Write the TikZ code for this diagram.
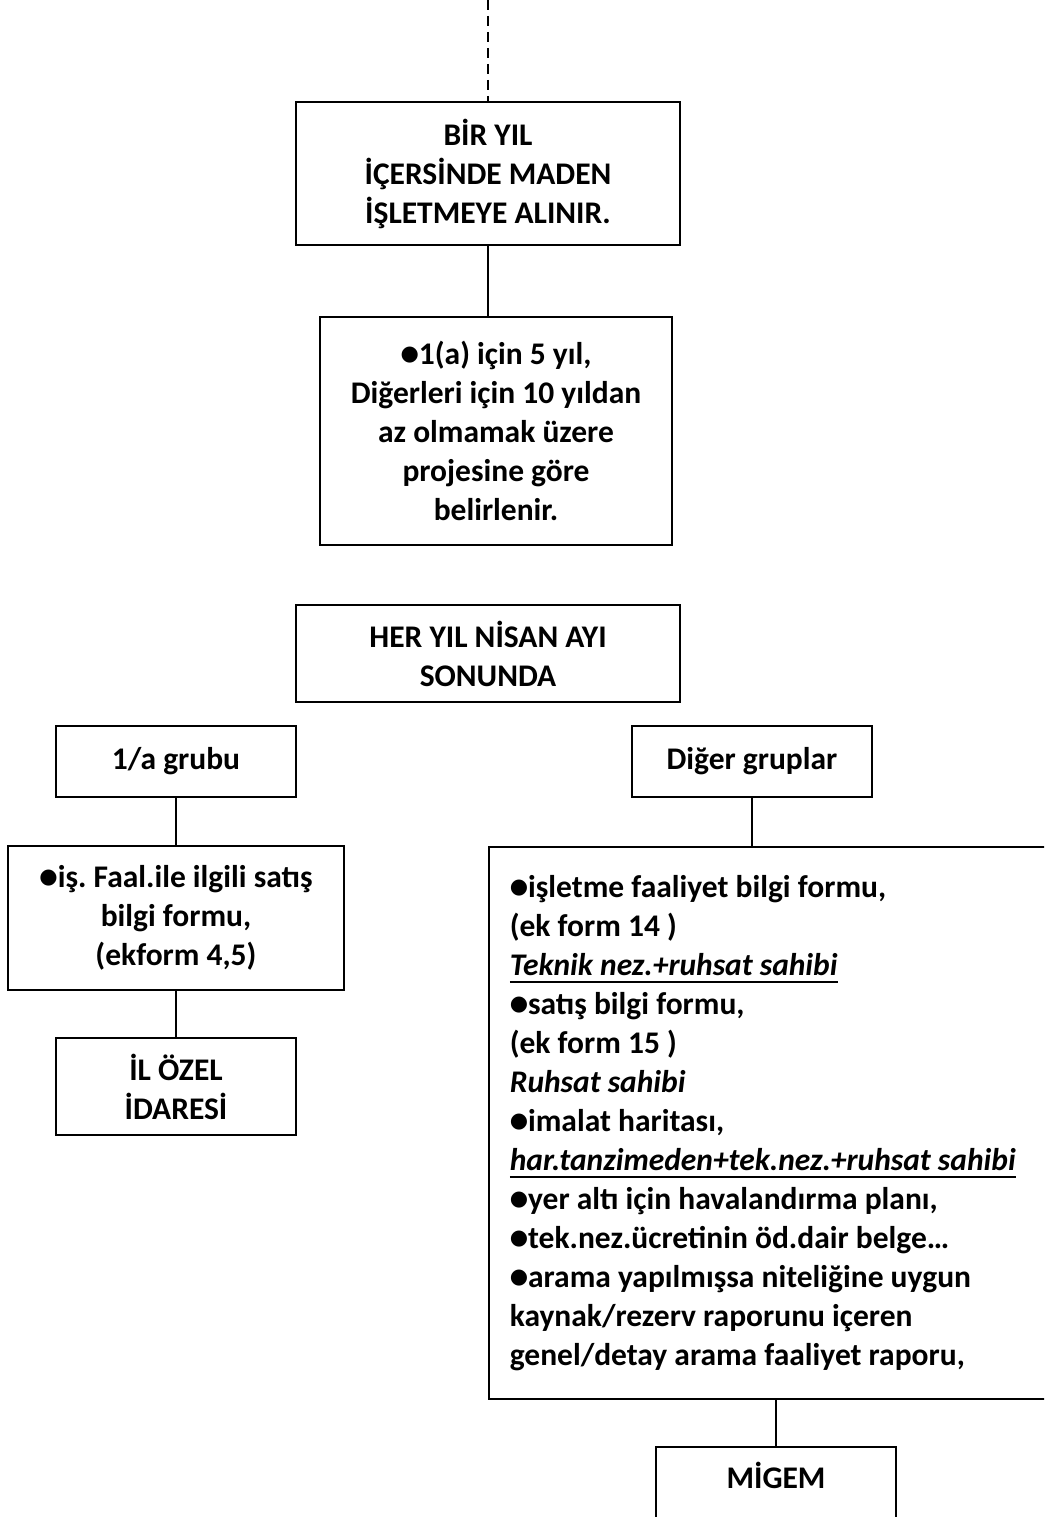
\documentclass[tikz,border=0pt]{standalone}
\usepackage{fontspec}
\setmainfont{Carlito}
\newfontfamily\dejavu{DejaVu Sans}
\frenchspacing
\newcommand\mybul{{\dejavu\fontsize{21}{21}\selectfont\raisebox{4pt}{●}}}
\newcommand\myul[1]{\leavevmode\setbox0=\hbox{#1}\rlap{\rule[-8pt]{\wd0}{2.5pt}}\box0}
\begin{document}
\begin{tikzpicture}[x=1pt,y=-1pt,
  box/.style={draw, line width=1.6pt, inner sep=0pt, align=center,
    font=\bfseries\fontsize{31.5}{39}\selectfont\frenchspacing},
  conn/.style={line width=1.4pt}]
\clip (0,0) rectangle (1044,1517);
\fill[white] (0,0) rectangle (1044,1517);
\coordinate (top) at (488,0);
\node[box, minimum width=384, minimum height=143] (b1) at (488,173.5)
  {BİR YIL\\İÇERSİNDE MADEN\\İŞLETMEYE ALINIR.};
\node[box, minimum width=352, minimum height=228] (b2) at (496,431)
  {\mybul 1(a) için 5 yıl,\\Diğerleri için 10 yıldan\\az olmamak üzere\\projesine göre\\belirlenir.};
\node[box, minimum width=384, minimum height=97] (her) at (488,653.5)
  {HER YIL NİSAN AYI\\SONUNDA};
\node[box, minimum width=240, minimum height=71] (ga) at (176,761.5) {1/a grubu};
\node[box, minimum width=240, minimum height=71] (dg) at (752,761.5) {Diğer gruplar};
\node[box, minimum width=336, minimum height=144] (lf) at (176,918)
  {\mybul iş. Faal.ile ilgili satış\\bilgi formu,\\(ekform 4,5)};
\node[box, minimum width=240, minimum height=97] (il) at (176,1086.5)
  {İL ÖZEL\\İDARESİ};
\node[box, anchor=north west, text width=530, inner xsep=21, inner ysep=0,
  minimum height=552, align=flush left] (rb) at (488,846)
  {\mybul işletme faaliyet bilgi formu,\\
   (ek form 14 )\\
   \myul{\itshape Teknik nez.+ruhsat sahibi}\\
   \mybul satış bilgi formu,\\
   (ek form 15 )\\
   {\itshape Ruhsat sahibi}\\
   \mybul imalat haritası,\\
   \myul{\itshape har.tanzimeden+tek.nez.+ruhsat sahibi}\\
   \mybul yer altı için havalandırma planı,\\
   \mybul tek.nez.ücretinin öd.dair belge…\\
   \mybul arama yapılmışsa niteliğine uygun\\
   kaynak/rezerv raporunu içeren\\
   genel/detay arama faaliyet raporu,};
\node[box, anchor=north, minimum width=240, text height=22, text depth=60,
  inner ysep=20] (mg) at (776,1446) {MİGEM};
\draw[conn, dash pattern=on 10pt off 6pt] (top) -- (b1.north);
\draw[conn] (b1.south) -- (b1.south |- b2.north);
\draw[conn] (ga.south) -- (ga.south |- lf.north);
\draw[conn] (lf.south) -- (lf.south |- il.north);
\draw[conn] (dg.south) -- (dg.south |- rb.north);
\draw[conn] (mg.north |- rb.south) -- (mg.north);
\end{tikzpicture}
\end{document}
